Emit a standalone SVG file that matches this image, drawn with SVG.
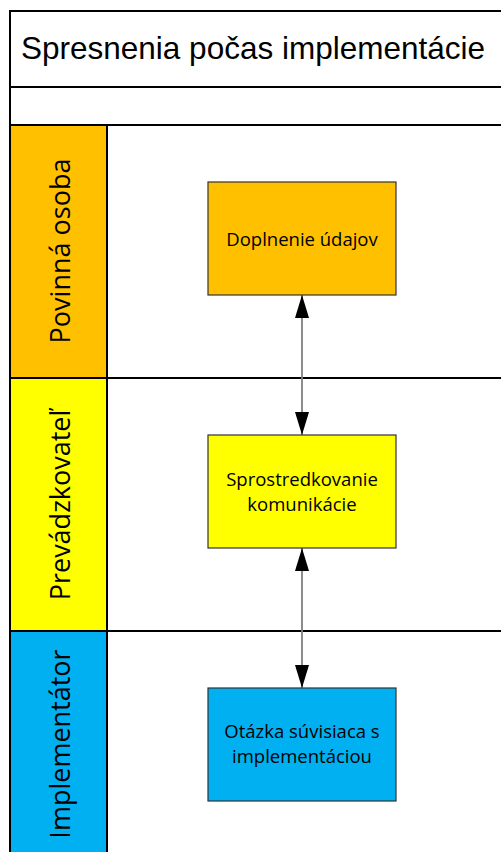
<svg xmlns="http://www.w3.org/2000/svg" width="501" height="852" viewBox="0 0 501 852">
<style>
.lane{stroke:#000;stroke-width:2}
.lbl{font-family:"Open Sans",sans-serif;font-size:27px;fill:#000;text-anchor:middle}
.box{stroke:#333;stroke-width:1.2}
.bt{font-family:"Open Sans",sans-serif;font-size:18.5px;fill:#000;text-anchor:middle}
.conn{stroke:#808080;stroke-width:1.8;fill:none}
</style>
<defs>
<marker id="ah" markerUnits="userSpaceOnUse" markerWidth="23" markerHeight="14" refX="23" refY="7" orient="auto-start-reverse" viewBox="0 0 23 14">
<path d="M0,0 L23,7 L0,14 Z" fill="#000"/>
</marker>
</defs>
<rect x="0" y="0" width="501" height="852" fill="#fff"/>
<g id="pool">
<rect x="10" y="11" width="500" height="860" fill="#fff" class="lane"/>
<text x="21" y="59" font-family="Liberation Sans, Arial, sans-serif" font-size="31.5" fill="#000">Spresnenia počas implementácie</text>
<line x1="10" y1="87" x2="510" y2="87" class="lane"/>
</g>
<g id="lane-povinna">
<rect x="10" y="125" width="500" height="253" fill="#fff" class="lane"/>
<rect x="10" y="125" width="97" height="253" fill="#FFC000" class="lane"/>
<text class="lbl" transform="translate(70,251) rotate(-90)">Povinná osoba</text>
</g>
<g id="lane-prevadzkovatel">
<rect x="10" y="378" width="500" height="253" fill="#fff" class="lane"/>
<rect x="10" y="378" width="97" height="253" fill="#FFFF00" class="lane"/>
<text class="lbl" transform="translate(70,505) rotate(-90)">Prevádzkovateľ</text>
</g>
<g id="lane-implementator">
<rect x="10" y="631" width="500" height="253" fill="#fff" class="lane"/>
<rect x="10" y="631" width="97" height="253" fill="#00B0F0" class="lane"/>
<text class="lbl" transform="translate(70,744) rotate(-90)">Implementátor</text>
</g>
<g id="connectors">
<line x1="302" y1="295" x2="302" y2="435" class="conn" marker-start="url(#ah)" marker-end="url(#ah)"/>
<line x1="302" y1="548" x2="302" y2="688" class="conn" marker-start="url(#ah)" marker-end="url(#ah)"/>
</g>
<g id="n1">
<rect x="208" y="182" width="188" height="113" fill="#FFC000" class="box"/>
<text class="bt" x="302" y="246">Doplnenie údajov</text>
</g>
<g id="n2">
<rect x="208" y="435" width="188" height="113" fill="#FFFF00" class="box"/>
<text class="bt" x="302" y="486">Sprostredkovanie</text>
<text class="bt" x="302" y="511">komunikácie</text>
</g>
<g id="n3">
<rect x="208" y="688" width="188" height="113" fill="#00B0F0" class="box"/>
<text class="bt" x="302" y="738">Otázka súvisiaca s</text>
<text class="bt" x="302" y="763">implementáciou</text>
</g>
</svg>
